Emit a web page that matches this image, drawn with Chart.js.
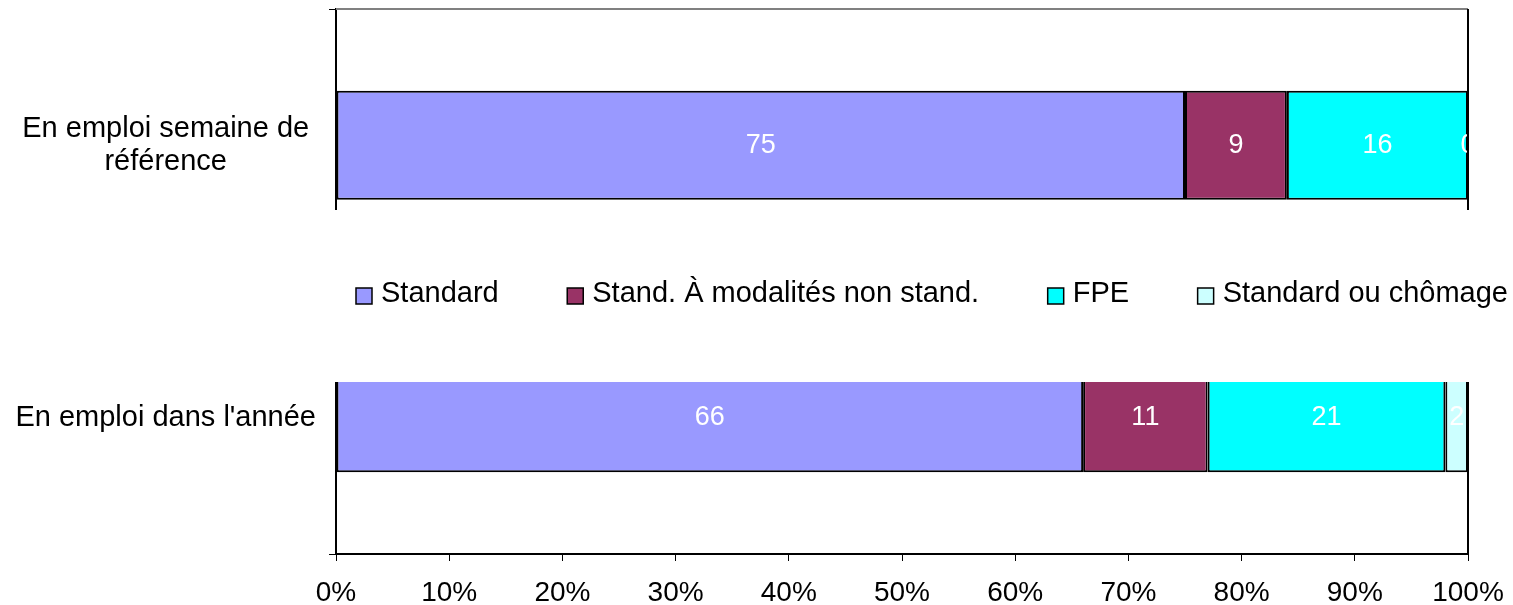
<!DOCTYPE html>
<html lang="fr">
<head>
<meta charset="utf-8">
<title>En emploi - répartition</title>
<script src="https://cdn.jsdelivr.net/npm/chart.js@4.4.1/dist/chart.umd.min.js"></script>
<style>
  html, body { margin: 0; padding: 0; background: #fff; }
  #wrap { width: 1513px; height: 605px; }
</style>
</head>
<body>
<div id="wrap"><canvas id="chart" width="1513" height="605"></canvas></div>
<script>
// -----------------------------------------------------------------
//  Données
// -----------------------------------------------------------------
const categories   = [["En emploi semaine de", "référence"], "En emploi dans l'année"];
const seriesLabels = ["Standard", "Stand. À modalités non stand.", "FPE", "Standard ou chômage"];
const seriesColors = ["#9999FF", "#993366", "#00FFFF", "#CCFFFF"];

const standard    = [75, 66];
const nonStandard = [9, 11];
const fpe         = [16, 21];
const chomage     = [0, 2];

const xTickLabels = ["0%", "10%", "20%", "30%", "40%", "50%", "60%", "70%", "80%", "90%", "100%"];

// -----------------------------------------------------------------
//  Mise en page
// -----------------------------------------------------------------
const FAMILY = "'Liberation Sans', Arial, sans-serif";
const legendBox = { left: 326, top: 210, bottom: 382, first: 356, last: 1508, y: 294 };

// légende posée au milieu du graphique (fond blanc qui masque le haut de la 2e barre)
const middleLegend = {
  id: "middleLegend",
  afterDraw(chart) {
    const { ctx, width } = chart;
    const box = 16, textGap = 9;
    ctx.save();
    ctx.fillStyle = "#fff";
    ctx.fillRect(legendBox.left, legendBox.top, width - legendBox.left, legendBox.bottom - legendBox.top);

    ctx.font = "29px " + FAMILY;
    const items = chart.data.datasets.map(ds => ({
      text: ds.label,
      color: ds.backgroundColor,
      w: box + textGap + ctx.measureText(ds.label).width,
    }));
    const total = items.reduce((s, it) => s + it.w, 0);
    const gap = (legendBox.last - legendBox.first - total) / (items.length - 1);

    let x = legendBox.first;
    const y = legendBox.y;
    items.forEach(it => {
      ctx.fillStyle = it.color;
      ctx.fillRect(x, y - box / 2 + 2, box, box);
      ctx.lineWidth = 1.5;
      ctx.strokeStyle = "#000";
      ctx.strokeRect(x, y - box / 2 + 2, box, box);
      ctx.fillStyle = "#000";
      ctx.textAlign = "left";
      ctx.textBaseline = "middle";
      ctx.fillText(it.text, x + box + textGap, y);
      x += it.w + gap;
    });
    ctx.restore();
  },
};

// valeurs en blanc au centre des segments + cadre (haut gris, droite noir)
const segmentLabels = {
  id: "segmentLabels",
  afterDatasetsDraw(chart) {
    const { ctx, chartArea: a } = chart;
    ctx.save();
    ctx.beginPath();
    ctx.rect(a.left, a.top, a.right - a.left, a.bottom - a.top);
    ctx.clip();
    ctx.font = "27px " + FAMILY;
    ctx.fillStyle = "#fff";
    ctx.textAlign = "center";
    ctx.textBaseline = "middle";
    chart.data.datasets.forEach((ds, i) => {
      chart.getDatasetMeta(i).data.forEach((bar, j) => {
        const { x, y, base } = bar.getProps(["x", "y", "base"], true);
        ctx.fillText(String(ds.data[j]), (x + base) / 2, y);
      });
    });
    ctx.restore();

    ctx.save();
    ctx.lineWidth = 2;
    ctx.strokeStyle = "#808080";
    ctx.beginPath();
    ctx.moveTo(a.left, a.top);
    ctx.lineTo(a.right, a.top);
    ctx.stroke();
    ctx.strokeStyle = "#000";
    ctx.beginPath();
    ctx.moveTo(a.right, a.top);
    ctx.lineTo(a.right, a.bottom);
    ctx.stroke();
    ctx.restore();
  },
};

const seriesData = [standard, nonStandard, fpe, chomage];

new Chart(document.getElementById("chart"), {
  type: "bar",
  data: {
    labels: categories,
    datasets: seriesData.map((d, i) => ({
      label: seriesLabels[i],
      data: d,
      backgroundColor: seriesColors[i],
      borderColor: "#000",
      borderWidth: 2,
      borderSkipped: false,
      barPercentage: 0.4,
      categoryPercentage: 1.0,
    })),
  },
  options: {
    indexAxis: "y",
    responsive: false,
    animation: false,
    layout: { padding: { top: 9, right: 45, left: 0, bottom: 0 } },
    plugins: {
      legend: { display: false },
      tooltip: { enabled: false },
    },
    scales: {
      x: {
        stacked: true,
        min: 0,
        max: 100,
        ticks: {
          stepSize: 10,
          autoSkip: false,
          maxRotation: 0,
          padding: 15,
          color: "#000",
          font: { family: FAMILY, size: 28 },
          callback: (v, i) => xTickLabels[i],
        },
        grid: { drawOnChartArea: false, tickLength: 7, color: "#000", lineWidth: 1 },
        border: { color: "#000", width: 2 },
        afterFit: s => {
          s.height = 51;
          s.paddingLeft = 0;
          s.paddingRight = 0;
        },
      },
      y: {
        stacked: true,
        ticks: {
          crossAlign: "center",
          padding: 13,
          color: "#000",
          font: { family: FAMILY, size: 29, lineHeight: 1.15 },
        },
        grid: { offset: true, drawOnChartArea: false, tickLength: 7, color: "#000", lineWidth: 1 },
        border: { color: "#000", width: 2 },
        afterFit: s => {
          s.width = 336;
          s.paddingTop = 0;
          s.paddingBottom = 0;
        },
      },
    },
  },
  plugins: [segmentLabels, middleLegend],
});
</script>
</body>
</html>
